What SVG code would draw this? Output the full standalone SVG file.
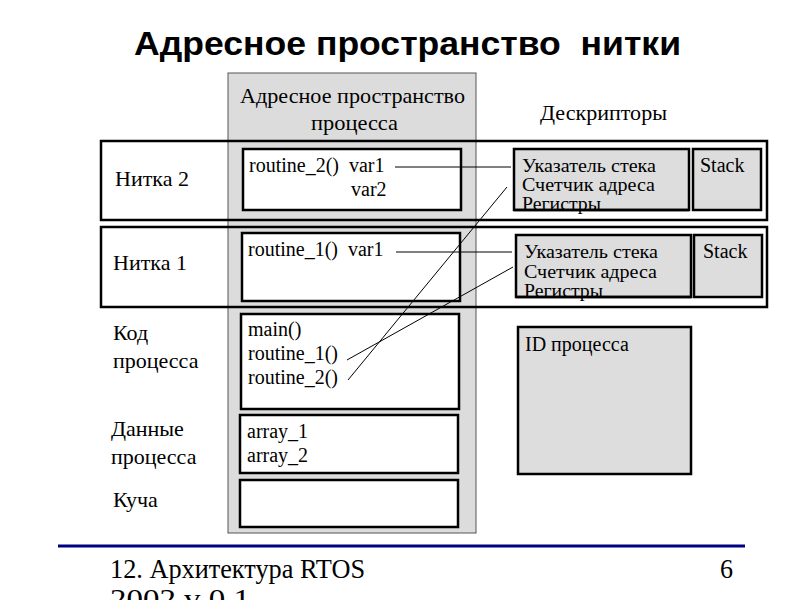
<svg xmlns="http://www.w3.org/2000/svg" width="800" height="600" viewBox="0 0 800 600">
<style>
.t{font-family:"Liberation Serif","Times New Roman",serif;font-size:22px;fill:#000}
.s{font-family:"Liberation Serif","Times New Roman",serif;font-size:20px;fill:#000}
.d{font-family:"Liberation Serif","Times New Roman",serif;font-size:18px;fill:#000}
.f{font-family:"Liberation Serif","Times New Roman",serif;font-size:28px;fill:#000}
.wb{fill:#fff;stroke:#000;stroke-width:2.5}
.gb{fill:#dddddd;stroke:#000;stroke-width:2.5}
.ob{fill:none;stroke:#000;stroke-width:2.5}
.ln{stroke:#000;stroke-width:1;fill:none}
</style>
<rect width="800" height="600" fill="#fff"/>
<text x="134" y="55" textLength="547" lengthAdjust="spacingAndGlyphs" style="font-family:'Liberation Sans',Arial,sans-serif;font-size:33px;font-weight:bold" xml:space="preserve">Адресное пространство  нитки</text>
<g id="process-space">
<rect x="228" y="73" width="248" height="460" fill="#dcdcdc" stroke="#555" stroke-width="1"/>
<text class="t" x="240" y="103" textLength="225" lengthAdjust="spacingAndGlyphs">Адресное пространство</text>
<text class="t" x="311" y="130" textLength="87" lengthAdjust="spacingAndGlyphs">процесса</text>
</g>
<text class="t" x="540" y="120" textLength="127" lengthAdjust="spacingAndGlyphs">Дескрипторы</text>
<g id="thread2">
<rect class="ob" x="101" y="141" width="666" height="79"/>
<text class="t" x="115" y="186">Нитка 2</text>
</g>
<g id="thread1">
<rect class="ob" x="101" y="227" width="666" height="80"/>
<text class="t" x="113" y="270">Нитка 1</text>
</g>
<g id="t2-code">
<rect class="wb" x="243" y="149" width="218" height="61"/>
<text class="s" x="249" y="172" xml:space="preserve">routine_2()  var1</text>
<text class="s" x="351" y="196">var2</text>
</g>
<g id="t1-code">
<rect class="wb" x="242" y="233" width="218" height="68"/>
<text class="s" x="248" y="256" xml:space="preserve">routine_1()  var1</text>
</g>
<g id="code">
<rect class="wb" x="241" y="314" width="218" height="95"/>
<text class="s" x="248" y="336">main()</text>
<text class="s" x="248" y="360">routine_1()</text>
<text class="s" x="248" y="384">routine_2()</text>
<text class="t" x="113" y="340">Код</text>
<text class="t" x="113" y="368">процесса</text>
</g>
<g id="data">
<rect class="wb" x="240" y="415" width="218" height="58"/>
<text class="s" x="247" y="438">array_1</text>
<text class="s" x="247" y="462">array_2</text>
<text class="t" x="111" y="436">Данные</text>
<text class="t" x="111" y="464">процесса</text>
</g>
<g id="heap">
<rect class="wb" x="240" y="480" width="218" height="47"/>
<text class="t" x="113" y="507">Куча</text>
</g>
<g id="t2-desc">
<rect class="gb" x="514" y="149" width="175" height="61"/>
<text class="d" x="522" y="172" textLength="134" lengthAdjust="spacingAndGlyphs">Указатель стека</text>
<text class="d" x="522" y="191" textLength="133" lengthAdjust="spacingAndGlyphs">Счетчик адреса</text>
<text class="d" x="522" y="210" textLength="79" lengthAdjust="spacingAndGlyphs">Регистры</text>
<line x1="514" y1="210" x2="689" y2="210" stroke="#000" stroke-width="2.5"/>
</g>
<g id="t2-stack">
<rect class="gb" x="693" y="149" width="68" height="61"/>
<text class="s" x="700" y="172">Stack</text>
</g>
<g id="t1-desc">
<rect class="gb" x="516" y="235" width="175" height="62"/>
<text class="d" x="524" y="258" textLength="134" lengthAdjust="spacingAndGlyphs">Указатель стека</text>
<text class="d" x="524" y="278" textLength="133" lengthAdjust="spacingAndGlyphs">Счетчик адреса</text>
<text class="d" x="524" y="297" textLength="79" lengthAdjust="spacingAndGlyphs">Регистры</text>
<line x1="516" y1="297" x2="691" y2="297" stroke="#000" stroke-width="2.5"/>
</g>
<g id="t1-stack">
<rect class="gb" x="694" y="235" width="68" height="62"/>
<text class="s" x="703" y="258">Stack</text>
</g>
<g id="pid">
<rect class="gb" x="518" y="327" width="173" height="147"/>
<text class="s" x="525" y="351">ID процесса</text>
</g>
<g id="connectors">
<line class="ln" x1="395" y1="167" x2="511" y2="167"/>
<line class="ln" x1="396" y1="252" x2="512" y2="252"/>
<line class="ln" x1="348" y1="380" x2="507" y2="187"/>
<line class="ln" x1="347" y1="360" x2="513" y2="267"/>
</g>
<g id="footer">
<line x1="58" y1="546" x2="745" y2="546" stroke="#000080" stroke-width="3"/>
<text class="f" x="110" y="578" textLength="255" lengthAdjust="spacingAndGlyphs">12. Архитектура RTOS</text>
<text class="f" x="720" y="578" textLength="13" lengthAdjust="spacingAndGlyphs">6</text>
<text class="f" x="110" y="608" textLength="140" lengthAdjust="spacingAndGlyphs">2002 v 0.1</text>
</g>
</svg>
